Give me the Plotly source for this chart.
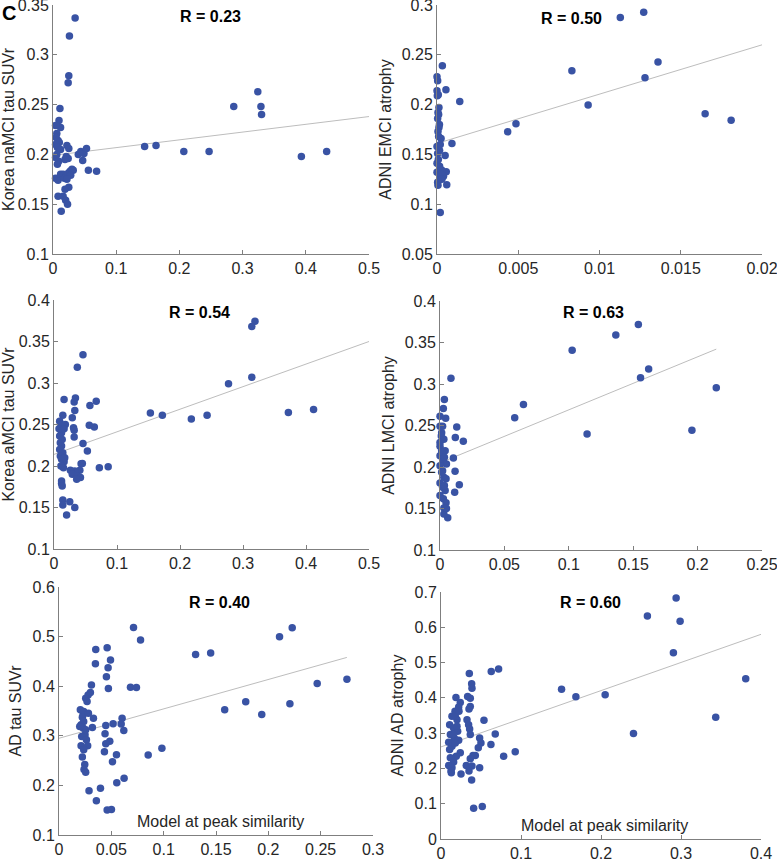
import plotly.graph_objects as go
from plotly.subplots import make_subplots

DOT_COLOR = "#3953a4"
FIT_COLOR = "#bdbdbd"
AXIS_COLOR = "#7f7f7f"
TEXT_COLOR = "#262626"
FONT = "Liberation Sans, Arial, sans-serif"

# Korea naMCI tau SUVr
namci_x = [0.035, 0.026, 0.025, 0.024, 0.011, 0.0095, 0.012,
           0.004, 0.006, 0.005, 0.008, 0.010, 0.004, 0.007, 0.012, 0.006, 0.004, 0.009, 0.007,
           0.022, 0.025, 0.021, 0.024, 0.019,
           0.004, 0.008, 0.012, 0.016, 0.020, 0.024, 0.027, 0.030, 0.032, 0.028, 0.018, 0.022,
           0.025, 0.019, 0.008, 0.016, 0.020, 0.023, 0.013,
           0.040, 0.044, 0.047, 0.049, 0.053, 0.056, 0.069,
           0.145, 0.163, 0.207, 0.247, 0.286, 0.324, 0.329, 0.330, 0.393, 0.433]
namci_y = [0.337, 0.319, 0.279, 0.272, 0.246, 0.234, 0.227,
           0.229, 0.221, 0.217, 0.214, 0.212, 0.210, 0.207, 0.205, 0.200, 0.197, 0.193, 0.190,
           0.209, 0.206, 0.198, 0.196, 0.195,
           0.176, 0.174, 0.180, 0.180, 0.178, 0.181, 0.183, 0.185, 0.184, 0.179, 0.176, 0.175,
           0.167, 0.165, 0.158, 0.158, 0.154, 0.150, 0.143,
           0.200, 0.203, 0.194, 0.201, 0.206, 0.184, 0.183,
           0.208, 0.209, 0.203, 0.203, 0.248, 0.263, 0.248, 0.240, 0.198, 0.203]

# ADNI EMCI atrophy
emci_x = [0.01128, 0.01272, 0.00033, 0.00055, 0.0014, 0.00092, 0.00435, 0.00486, 0.0083, 0.0093,
          0.0128, 0.0136, 0.0165, 0.0181, 0.0002, 0.0006, 0.00057, 0.0004, 0.0005,
          0.0, 0.00004, 0.0, 0.00002, 0.00012, 0.00006, 0.00004, 0.00012, 0.00006, 0.0001,
          0.00025, 0.0, 0.00016, 0.00004, 0.0, 0.00016, 0.0003, 0.0, 0.0002, 0.00004, 0.00006,
          0.00008, 0.0001, 0.00015, 0.0002, 0.00008, 0.00025, 0.0003]
emci_y = [0.2874, 0.2927, 0.239, 0.2148, 0.2031, 0.161, 0.1728, 0.1808, 0.234, 0.1995,
          0.227, 0.2427, 0.1908, 0.1842, 0.0916, 0.1196, 0.1326, 0.128, 0.149,
          0.228, 0.224, 0.214, 0.209, 0.197, 0.192, 0.186, 0.177, 0.173, 0.168,
          0.166, 0.158, 0.154, 0.151, 0.141, 0.138, 0.134, 0.132, 0.127, 0.122, 0.119,
          0.210, 0.190, 0.180, 0.160, 0.145, 0.130, 0.125]

# Korea aMCI tau SUVr
amci_x = [0.319, 0.314, 0.046, 0.037, 0.314, 0.277, 0.153, 0.172, 0.218, 0.243, 0.372, 0.412,
          0.067, 0.057, 0.016, 0.034, 0.032, 0.033, 0.029, 0.014, 0.056, 0.064, 0.031, 0.032,
          0.032, 0.046, 0.053, 0.043, 0.045, 0.072, 0.086, 0.041, 0.033, 0.026, 0.029, 0.037,
          0.042, 0.036, 0.012, 0.012, 0.013, 0.014, 0.014, 0.025, 0.033, 0.020,
          0.009, 0.011, 0.008, 0.012, 0.009, 0.013, 0.010, 0.012, 0.009, 0.014, 0.010, 0.012,
          0.016, 0.011, 0.015, 0.017, 0.018, 0.016]
amci_y = [0.3745, 0.368, 0.334, 0.319, 0.307, 0.299, 0.264, 0.261, 0.2565, 0.261, 0.2646, 0.268,
          0.278, 0.273, 0.280, 0.282, 0.277, 0.267, 0.258, 0.261, 0.249, 0.247, 0.246, 0.243,
          0.235, 0.227, 0.218, 0.2026, 0.203, 0.198, 0.199, 0.195, 0.194, 0.195, 0.190, 0.188,
          0.186, 0.184, 0.182, 0.179, 0.176, 0.159, 0.153, 0.157, 0.150, 0.141,
          0.254, 0.250, 0.245, 0.240, 0.236, 0.232, 0.228, 0.224, 0.220, 0.216, 0.212, 0.208,
          0.205, 0.200, 0.198, 0.210, 0.250, 0.245]

# ADNI LMCI atrophy
lmci_x = [0.154, 0.1365, 0.1026, 0.162, 0.1557, 0.2145, 0.0085, 0.0648, 0.058, 0.1142, 0.1956,
          0.0034, 0.0026, 0.0, 0.0044, 0.013, 0.0119, 0.0181, 0.0104, 0.0117, 0.015, 0.0114,
          0.006, 0.003,
          0.0, 0.002, 0.001, 0.003, 0.0, 0.0013, 0.004, 0.0, 0.0026, 0.005, 0.0, 0.002, 0.003,
          0.0047, 0.0, 0.002, 0.004, 0.0, 0.0026, 0.0047, 0.003, 0.005, 0.0013, 0.0, 0.0018,
          0.0034, 0.0013, 0.0034]
lmci_y = [0.3717, 0.359, 0.3406, 0.318, 0.3076, 0.2956, 0.3068, 0.2753, 0.2594, 0.2398, 0.2442,
          0.2813, 0.2705, 0.261, 0.2586, 0.2482, 0.2355, 0.231, 0.2108, 0.1948, 0.1785, 0.1697,
          0.139, 0.1434,
          0.249, 0.249, 0.2375, 0.2335, 0.225, 0.2195, 0.2195, 0.2135, 0.2076, 0.2036, 0.2016,
          0.1956, 0.1876, 0.1857, 0.1808, 0.1757, 0.1717, 0.1657, 0.1618, 0.157, 0.1506, 0.150,
          0.2414, 0.2295, 0.2175, 0.2116, 0.1936, 0.1777]

# AD tau SUVr
ad_tau_x = [0.0712, 0.0779, 0.046, 0.0351, 0.0492, 0.0348, 0.0469, 0.0453, 0.0472, 0.031, 0.030,
            0.0278, 0.0255, 0.0268, 0.0683, 0.074, 0.1305, 0.1449, 0.2107, 0.2228, 0.2751,
            0.2467, 0.2206, 0.1784, 0.1937, 0.1583, 0.0983, 0.0852, 0.0603, 0.0594, 0.0619,
            0.0517, 0.0447, 0.044, 0.0485, 0.0447, 0.0549, 0.0511, 0.0434, 0.0622, 0.0552,
            0.0396, 0.0287, 0.0357, 0.046, 0.0501, 0.0329, 0.0319,
            0.0204, 0.023, 0.0211, 0.023, 0.0249, 0.0217, 0.0262, 0.0211, 0.0274, 0.0236,
            0.0223, 0.0246, 0.0239, 0.0255, 0.0236, 0.0281, 0.0223, 0.0236, 0.0255, 0.0198]
ad_tau_y = [0.5183, 0.4929, 0.4775, 0.4742, 0.4527, 0.4454, 0.4374, 0.4193, 0.3952, 0.4025,
            0.3871, 0.3825, 0.3758, 0.3691, 0.3979, 0.3972, 0.4641, 0.4668, 0.4996, 0.5177,
            0.4139, 0.4052, 0.3644, 0.3684, 0.343, 0.3523, 0.2747, 0.2613, 0.3356, 0.3236,
            0.3108, 0.3242, 0.3209, 0.3042, 0.2888, 0.2841, 0.262, 0.2479, 0.268, 0.2145,
            0.2051, 0.1944, 0.189, 0.169, 0.1502, 0.1515, 0.3356, 0.3169,
            0.3523, 0.3423, 0.3222, 0.3155, 0.3021, 0.2988, 0.2921, 0.2801, 0.2801, 0.272,
            0.2573, 0.2419, 0.2319, 0.2265, 0.349, 0.3456, 0.3376, 0.329, 0.3122, 0.3189]

# ADNI AD atrophy
ad_atr_x = [0.2939, 0.258, 0.2989, 0.2905, 0.3809, 0.3434, 0.2406, 0.2052, 0.1686, 0.1507,
            0.072, 0.0628, 0.0354, 0.0383, 0.0387, 0.0333, 0.0366, 0.0366, 0.035, 0.0325,
            0.0345, 0.0358, 0.0366, 0.0537, 0.0678, 0.0483, 0.0499, 0.0624, 0.0466, 0.0928,
            0.0783, 0.040, 0.0429, 0.0366, 0.0316, 0.0387, 0.0483, 0.035, 0.0383, 0.025,
            0.0408, 0.0516,
            0.0187, 0.0241, 0.0221, 0.0175, 0.0137, 0.020, 0.0108, 0.0158, 0.0208, 0.0117,
            0.0166, 0.0221, 0.0096, 0.0137, 0.0241, 0.0191, 0.0117, 0.0158, 0.0096, 0.0137,
            0.0125, 0.0108, 0.020, 0.0179, 0.0225, 0.015, 0.0179, 0.0129]
ad_atr_y = [0.6831, 0.6323, 0.6173, 0.528, 0.4538, 0.3447, 0.2987, 0.4087, 0.403, 0.4246,
            0.482, 0.4744, 0.4688, 0.4397, 0.4274, 0.404, 0.3992, 0.3758, 0.3682, 0.3382,
            0.3241, 0.3118, 0.2959, 0.3363, 0.2978, 0.2865, 0.2724, 0.2677, 0.2583, 0.247,
            0.2348, 0.2367, 0.2367, 0.2273, 0.2085, 0.2066, 0.2019, 0.1925, 0.1671, 0.184,
            0.0872, 0.0919,
            0.4011, 0.387, 0.3739, 0.3617, 0.3476, 0.3382, 0.3241, 0.3147, 0.3053, 0.2959,
            0.2865, 0.2799, 0.2743, 0.263, 0.2442, 0.2348, 0.2301, 0.2179, 0.2085, 0.2019,
            0.1925, 0.2536, 0.3194, 0.3476, 0.3617, 0.2959, 0.2724, 0.1878]

# regression line end points
fit_x = [[0, 0.5], [0, 0.02], [0, 0.5], [0, 0.2145], [0, 0.275], [0, 0.4]]
fit_y = [[0.199, 0.238], [0.161, 0.26], [0.214, 0.35], [0.205, 0.342], [0.295, 0.458], [0.261, 0.58]]

r_labels = ["R = 0.23", "R = 0.50", "R = 0.54", "R = 0.63", "R = 0.40", "R = 0.60"]
y_titles = ["Korea naMCI tau SUVr", "ADNI EMCI atrophy", "Korea aMCI tau SUVr",
            "ADNI LMCI atrophy", "AD tau SUVr", "ADNI AD atrophy"]

x_ticks = [
    [0, 0.1, 0.2, 0.3, 0.4, 0.5],
    [0, 0.005, 0.01, 0.015, 0.02],
    [0, 0.1, 0.2, 0.3, 0.4, 0.5],
    [0, 0.05, 0.1, 0.15, 0.2, 0.25],
    [0, 0.05, 0.1, 0.15, 0.2, 0.25, 0.3],
    [0, 0.1, 0.2, 0.3, 0.4],
]
y_ticks = [
    [0.1, 0.15, 0.2, 0.25, 0.3, 0.35],
    [0.05, 0.1, 0.15, 0.2, 0.25, 0.3],
    [0.1, 0.15, 0.2, 0.25, 0.3, 0.35, 0.4],
    [0.1, 0.15, 0.2, 0.25, 0.3, 0.35, 0.4],
    [0.1, 0.2, 0.3, 0.4, 0.5, 0.6],
    [0, 0.1, 0.2, 0.3, 0.4, 0.5, 0.6, 0.7],
]

panels = [(namci_x, namci_y), (emci_x, emci_y), (amci_x, amci_y),
          (lmci_x, lmci_y), (ad_tau_x, ad_tau_y), (ad_atr_x, ad_atr_y)]

# plot areas in pixels: (left, right, top, bottom)
W, H = 777, 861
BOXES = [(53, 369, 5, 254), (437, 762, 5, 254), (54, 369, 300, 549),
         (440, 762, 301, 550), (59, 373, 587, 835), (441, 761, 592, 839)]
R_POS = [(0.497, 0.952), (0.414, 0.947), (0.463, 0.951), (0.476, 0.955), (0.512, 0.937), (0.466, 0.958)]
XLABEL_POS = {4: (0.515, 0.054), 5: (0.511, 0.053)}


def fmt(v):
    return "0" if v == 0 else f"{v:g}"


fig = make_subplots(rows=3, cols=2)

for i, (xs, ys) in enumerate(panels):
    row, col = i // 2 + 1, i % 2 + 1
    fig.add_trace(
        go.Scatter(x=fit_x[i], y=fit_y[i], mode="lines",
                   line={"color": FIT_COLOR, "width": 1}, hoverinfo="skip", showlegend=False),
        row=row, col=col,
    )
    fig.add_trace(
        go.Scatter(x=xs, y=ys, mode="markers", cliponaxis=False,
                   marker={"color": DOT_COLOR, "size": 7.5, "line": {"width": 0}},
                   showlegend=False),
        row=row, col=col,
    )

    left, right, top, bottom = BOXES[i]
    axis_style = dict(
        showgrid=False, zeroline=False, showline=True, linecolor=AXIS_COLOR, linewidth=1,
        ticks="inside", ticklen=4, tickcolor=AXIS_COLOR, tickfont={"size": 16, "color": TEXT_COLOR},
        mirror=False, automargin=False, ticklabeloverflow="allow",
    )
    fig.update_xaxes(
        domain=[left / W, right / W], range=[x_ticks[i][0], x_ticks[i][-1]],
        tickvals=x_ticks[i], ticktext=[fmt(v) for v in x_ticks[i]],
        row=row, col=col, **axis_style,
    )
    fig.update_yaxes(
        domain=[1 - bottom / H, 1 - top / H], range=[y_ticks[i][0], y_ticks[i][-1]],
        tickvals=y_ticks[i], ticktext=[fmt(v) for v in y_ticks[i]],
        title={"text": y_titles[i], "font": {"size": 16, "color": TEXT_COLOR}, "standoff": 6},
        row=row, col=col, **axis_style,
    )

    xref = "x domain" if i == 0 else f"x{i + 1} domain"
    yref = "y domain" if i == 0 else f"y{i + 1} domain"
    rx, ry = R_POS[i]
    fig.add_annotation(text=f"<b>{r_labels[i]}</b>", x=rx, y=ry, xref=xref, yref=yref,
                       showarrow=False, xanchor="center", yanchor="middle",
                       font={"size": 16, "color": "#000000"})
    if i in XLABEL_POS:
        lx, ly = XLABEL_POS[i]
        fig.add_annotation(text="Model at peak similarity", x=lx, y=ly, xref=xref, yref=yref,
                           showarrow=False, xanchor="center", yanchor="middle",
                           font={"size": 16, "color": TEXT_COLOR})

fig.add_annotation(text="<b>C</b>", x=9 / W, y=1 - 13 / H, xref="paper", yref="paper",
                   showarrow=False, xanchor="center", yanchor="middle",
                   font={"size": 20, "color": "#000000"})

fig.update_layout(
    width=W,
    height=H,
    margin={"l": 0, "r": 0, "t": 0, "b": 0},
    paper_bgcolor="white",
    plot_bgcolor="white",
    font={"family": FONT, "color": TEXT_COLOR},
    showlegend=False,
)

# drop the default page margin so the figure sits at the window's top-left corner
fig.write_html(
    "out.html",
    config={"displayModeBar": False},
    post_script="document.body.style.margin = '0';",
)
